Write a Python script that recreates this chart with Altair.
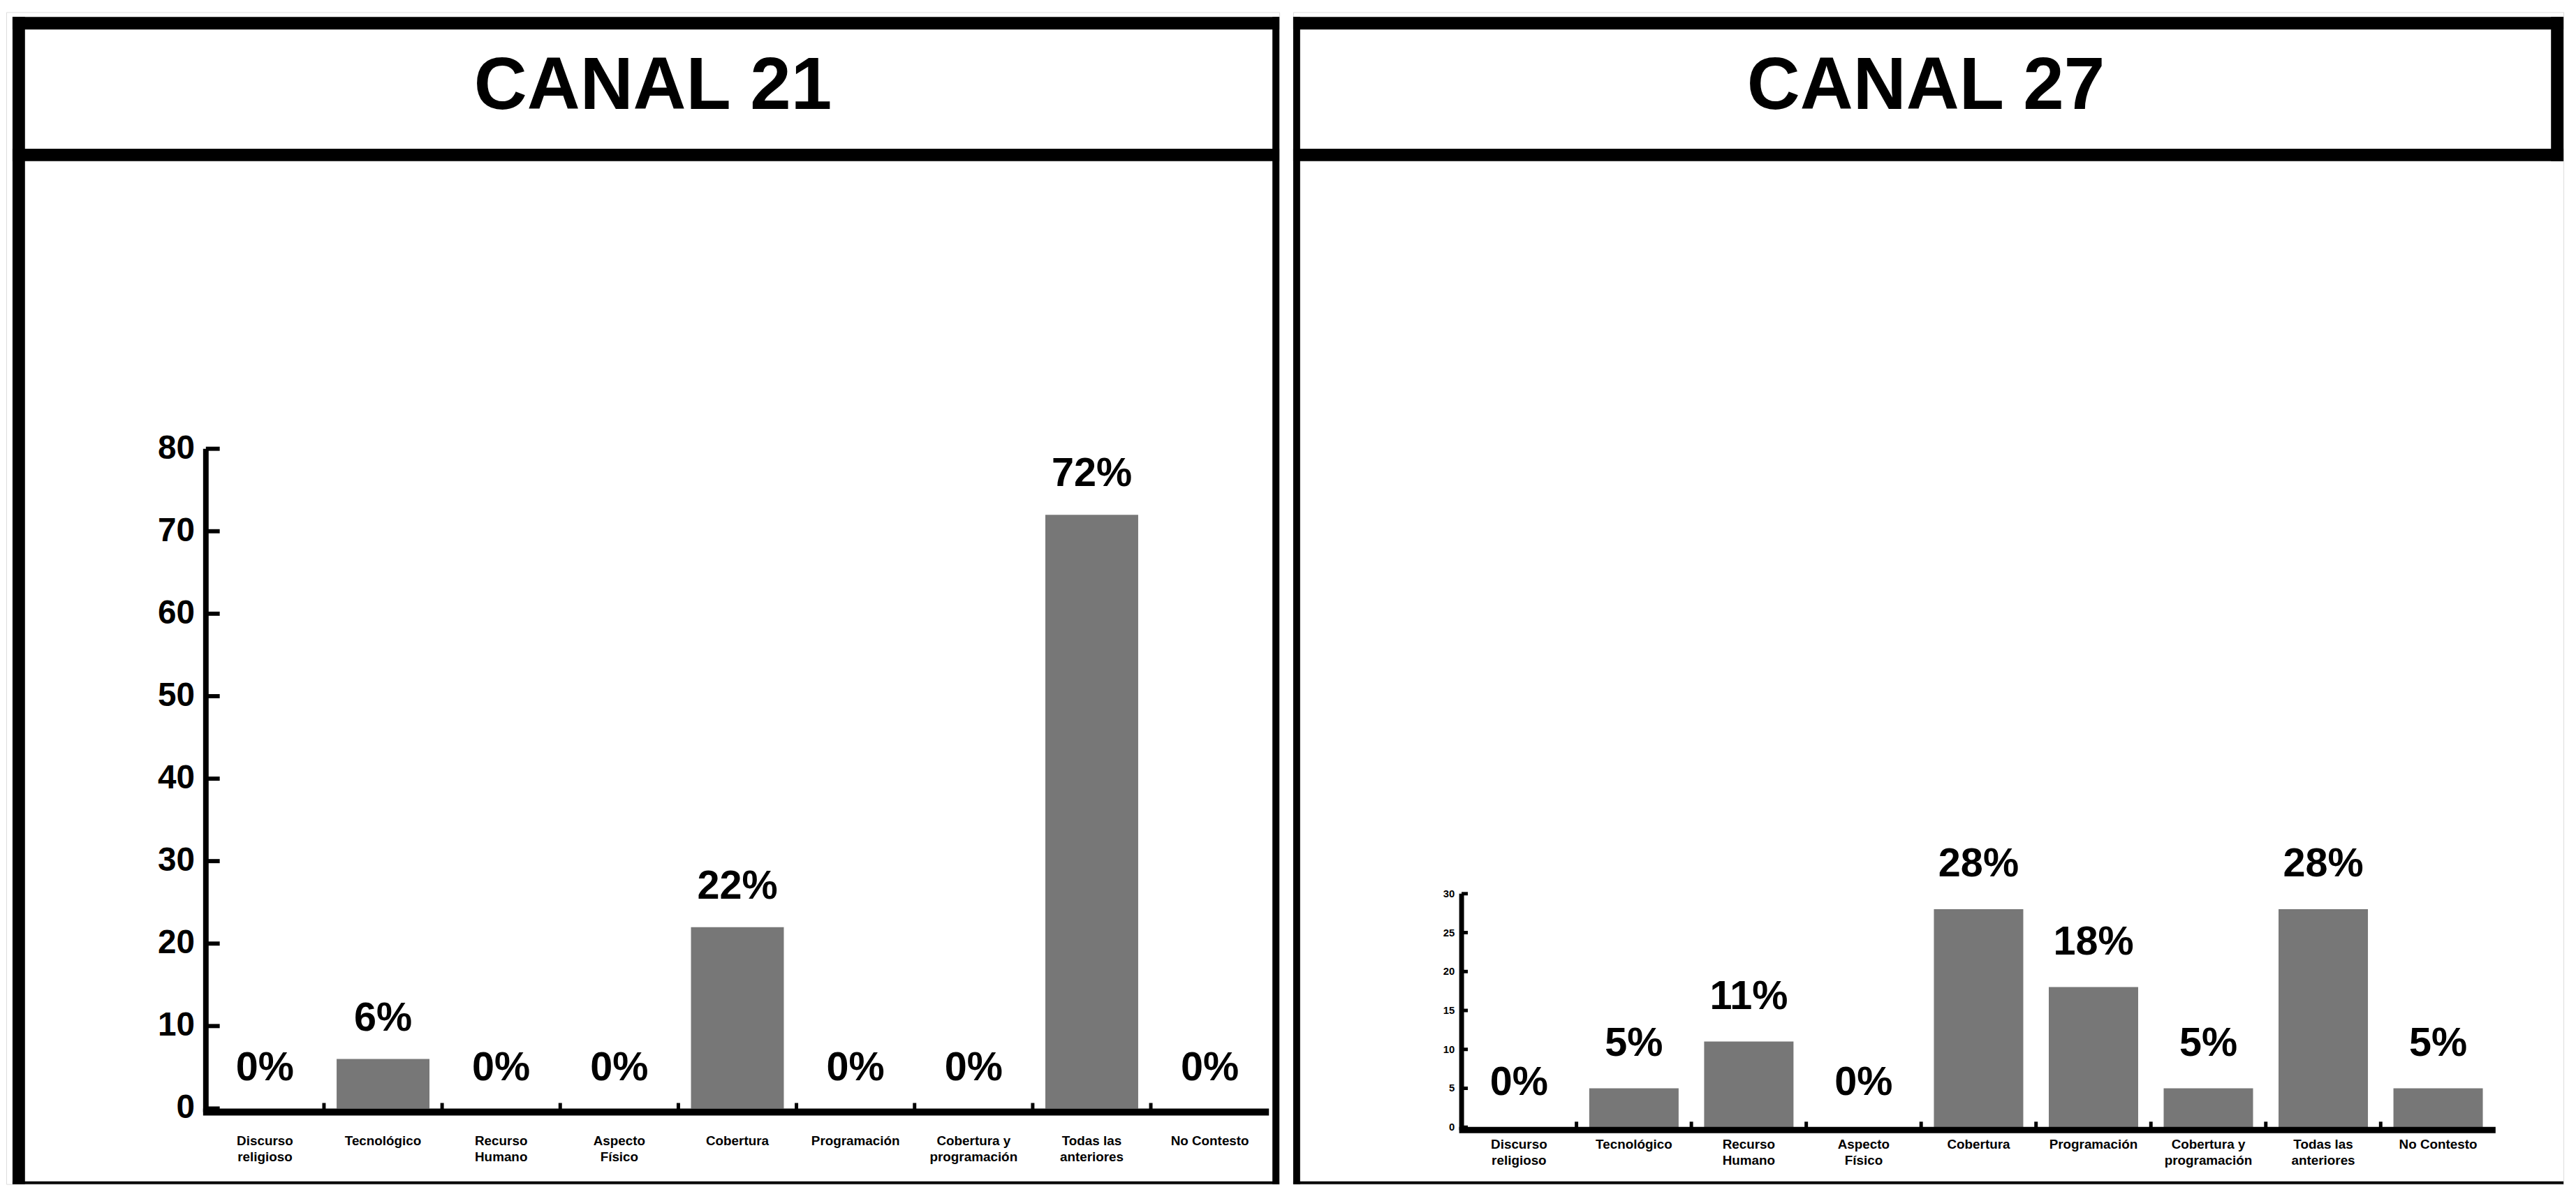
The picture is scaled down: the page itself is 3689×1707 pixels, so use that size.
import altair as alt
import pandas as pd

# ---------------- data ----------------
categories = [
    "Discurso\nreligioso", "Tecnológico", "Recurso\nHumano", "Aspecto\nFísico",
    "Cobertura", "Programación", "Cobertura y\nprogramación", "Todas las\nanteriores",
    "No Contesto",
]
canal21_values = [0, 6, 0, 0, 22, 0, 0, 72, 0]
canal27_values = [0, 5, 11, 0, 28, 18, 5, 28, 5]
canal21_yticks = [0, 10, 20, 30, 40, 50, 60, 70, 80]
canal27_yticks = [0, 5, 10, 15, 20, 25, 30]
panel_titles = ["CANAL 21", "CANAL 27"]

FONT = "Liberation Sans"
NARROW = "Liberation Sans Narrow, Liberation Sans"
FILL = "#777777"
H = 1691
BW = 18  # border width


def one():
    return alt.Data(values=[{"k": 0}])


def border(x1, x2, y1, y2, w):
    return alt.Chart(one()).mark_rule(color="black", strokeWidth=w).encode(
        x=alt.value(x1), x2=alt.value(x2), y=alt.value(y1), y2=alt.value(y2)
    )


def panel(values, title, W, xr, yr, ydom, yticks, pad_inner, xaxis_y, xdomw,
          xlab_top, ylabsize, ylabpad, ydomw, tick_len, tick_w, label_dy,
          title_x, left_side):
    df = pd.DataFrame({
        "cat": categories,
        "value": values,
        "label": [f"{v}%" for v in values],
    })
    xscale = alt.Scale(domain=categories, range=xr, paddingInner=pad_inner,
                       paddingOuter=pad_inner / 2)
    yscale = alt.Scale(domain=ydom, range=yr, nice=False, zero=True)
    step = (xr[1] - xr[0]) / len(categories)
    X = alt.X("cat:N", scale=xscale, sort=categories, axis=None)

    bars = alt.Chart(df).mark_bar(color=FILL).encode(
        x=X, y=alt.Y("value:Q", scale=yscale, axis=None),
    )
    texts = alt.Chart(df).mark_text(
        font=FONT, fontSize=58, fontWeight="bold", color="black",
        baseline="middle", dy=label_dy,
    ).encode(
        x=X, y=alt.Y("value:Q", scale=yscale, axis=None), text="label:N",
    )
    # x-axis category labels
    xlabels = alt.Chart(df).mark_text(
        font=NARROW, fontSize=19, fontWeight="bold", color="black",
        baseline="top", align="center", lineBreak="\n", lineHeight=23,
    ).encode(x=X, y=alt.value(xlab_top), text="cat:N")

    # axis lines
    xline = border(xr[0] - ydomw / 2, xr[1], xaxis_y, xaxis_y, xdomw)
    yline = border(xr[0], xr[0], yr[1], xaxis_y, ydomw)

    ytick_df = pd.DataFrame({"tick": yticks})
    ytk = alt.Chart(ytick_df).mark_rule(color="black", strokeWidth=tick_w).encode(
        y=alt.Y("tick:Q", scale=yscale, axis=None),
        x=alt.value(xr[0]), x2=alt.value(xr[0] + tick_len),
    )
    ylab = alt.Chart(ytick_df).mark_text(
        font=FONT, fontSize=ylabsize, fontWeight="bold", color="black",
        align="right", baseline="middle",
    ).encode(
        y=alt.Y("tick:Q", scale=yscale, axis=None),
        x=alt.value(xr[0] - ylabpad), text="tick:Q",
    )
    bump_df = pd.DataFrame({"cat": categories[1:]})
    bumps = alt.Chart(bump_df).mark_rule(color="black", strokeWidth=5).encode(
        x=alt.X("cat:N", scale=xscale, sort=categories, axis=None, bandPosition=0),
        xOffset=alt.value(-step * pad_inner / 2),
        y=alt.value(yr[0] + 2), y2=alt.value(yr[0] - 8),
    )
    head = alt.Chart(one()).mark_text(
        text=title, font=FONT, fontSize=106, fontWeight="bold", color="black",
        align="center", baseline="middle",
    ).encode(x=alt.value(title_x), y=alt.value(108))

    layers = [bars, ytk, bumps, xline, yline, ylab, xlabels, texts, head]
    # borders
    x0 = 9 if left_side else 0
    layers.append(border(x0, W, 16, 16, BW))          # top
    layers.append(border(x0, W, 206, 206, BW))        # header bottom
    layers.append(border(x0, W, H - 2, H - 2, 4))     # bottom (cut by page)
    if left_side:
        layers.append(border(18, 18, 7, H, BW))      # outer left
        layers.append(border(W - 5, W - 5, 7, H, 10))  # half divider
    else:
        layers.append(border(5, 5, 7, H, 10))        # half divider
        layers.append(border(W - 9, W - 9, 7, 215, BW))  # outer right (header)
    return alt.layer(*layers).properties(width=W, height=H)


W1 = 1837
W2 = 1833
p1 = panel(canal21_values, panel_titles[0], W1,
           xr=[288, 1822], yr=[1582, 630], ydom=[0, 80], yticks=canal21_yticks,
           pad_inner=0.214, xaxis_y=1587, xdomw=10, xlab_top=1620,
           ylabsize=48, ylabpad=16, ydomw=8, tick_len=20, tick_w=6,
           label_dy=-58, title_x=933, left_side=True)
p2 = panel(canal27_values, panel_titles[1], W2,
           xr=[243, 1735], yr=[1609, 1272], ydom=[0, 30], yticks=canal27_yticks,
           pad_inner=0.222, xaxis_y=1613, xdomw=9, xlab_top=1625,
           ylabsize=15, ylabpad=10, ydomw=7, tick_len=9, tick_w=5,
           label_dy=-64, title_x=913, left_side=False)

chart = alt.hconcat(p1, p2, spacing=0).properties(
    padding=0
).configure_view(strokeWidth=0).configure(background="white")

chart.save("out.html", embed_options={"renderer": "svg", "actions": False})
